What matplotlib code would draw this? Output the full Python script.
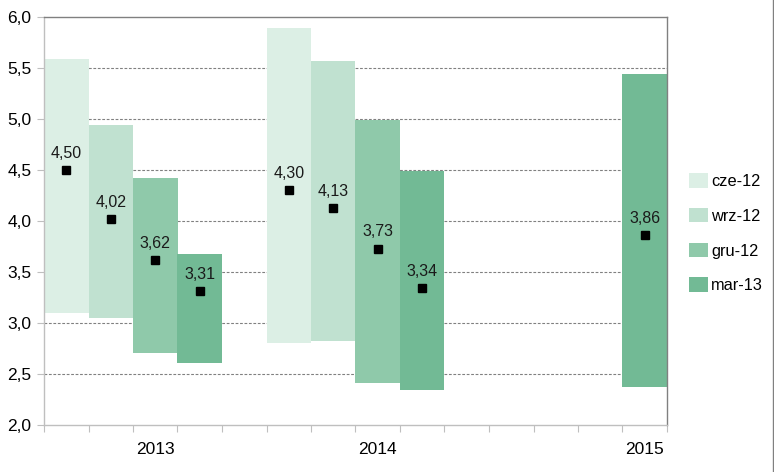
import matplotlib
matplotlib.use("Agg")
import matplotlib.pyplot as plt
from matplotlib.patches import Patch
from matplotlib.lines import Line2D

series = ["cze-12", "wrz-12", "gru-12", "mar-13"]
colors = ["#DCEFE5", "#C0E1D0", "#8FC9AA", "#72BA95"]

# slot index on the category axis (14 slots), series index
slots = [0, 1, 2, 3, 5, 6, 7, 8, 13]
series_idx = [0, 1, 2, 3, 0, 1, 2, 3, 3]
lows = [3.10, 3.05, 2.71, 2.61, 2.80, 2.82, 2.41, 2.34, 2.37]
highs = [5.59, 4.94, 4.42, 3.68, 5.89, 5.57, 4.99, 4.49, 5.44]
centers = [4.50, 4.02, 3.62, 3.31, 4.30, 4.13, 3.73, 3.34, 3.86]
center_labels = ["4,50", "4,02", "3,62", "3,31", "4,30", "4,13", "3,73", "3,34", "3,86"]

year_slots = [2, 7, 13]
year_labels = ["2013", "2014", "2015"]
yticks = [2.0, 2.5, 3.0, 3.5, 4.0, 4.5, 5.0, 5.5, 6.0]
ytick_labels = ["2,0", "2,5", "3,0", "3,5", "4,0", "4,5", "5,0", "5,5", "6,0"]
n_slots = 14

plt.rcParams["font.family"] = ["Liberation Sans", "DejaVu Sans"]

fig = plt.figure(figsize=(7.74, 4.72), dpi=100)
ax = fig.add_axes([44 / 774, 1 - 425 / 472, (667 - 44) / 774, (425 - 17) / 472])

for s, si, lo, hi, c, lab in zip(slots, series_idx, lows, highs, centers, center_labels):
    ax.bar(s + 0.5, hi - lo, bottom=lo, width=1.0, color=colors[si],
           edgecolor="none", zorder=2)
    ax.plot(s + 0.5, c, marker="s", color="black", markersize=6, linestyle="none", zorder=3)
    ax.text(s + 0.5, c + 0.09, lab, ha="center", va="bottom", fontsize=11.5,
            color="#1a1a1a", zorder=4)

ax.set_xlim(0, n_slots)
ax.set_ylim(2.0, 6.0)
ax.set_yticks(yticks)
ax.set_yticklabels(ytick_labels, fontsize=12.5)
for y in yticks[1:-1]:
    ax.axhline(y, color="#808080", linestyle=(0, (2.5, 1.5)), linewidth=0.8, zorder=1)

ax.set_xticks(range(0, n_slots + 1))
ax.set_xticklabels([])
ax.set_xticks([s + 0.5 for s in year_slots], minor=True)
ax.set_xticklabels(year_labels, minor=True, fontsize=12.5)
ax.tick_params(axis="x", which="major", length=5, color="#bfbfbf", direction="out")
ax.tick_params(axis="x", which="minor", length=0, pad=12)
ax.tick_params(axis="y", length=5, color="#bfbfbf", direction="out", pad=4)

ax.spines["left"].set_color("#bfbfbf")
ax.spines["bottom"].set_color("#bfbfbf")
ax.spines["top"].set_color("#808080")
ax.spines["right"].set_color("#808080")
for sp in ax.spines.values():
    sp.set_linewidth(1.0)

handles = [Patch(facecolor=c, edgecolor="none") for c in colors]
leg = fig.legend(handles, series, loc="upper left", bbox_to_anchor=(689 / 774, 1 - 173 / 472),
                 frameon=False, prop={"size": 11.8},
                 handlelength=1.15, handleheight=1.0, handletextpad=0.2, labelspacing=1.15,
                 borderaxespad=0, borderpad=0)

fig.add_artist(Line2D([772.5 / 774, 772.5 / 774], [0, 1], color="#808080", linewidth=1.0))

fig.savefig("out.png", dpi=100)
